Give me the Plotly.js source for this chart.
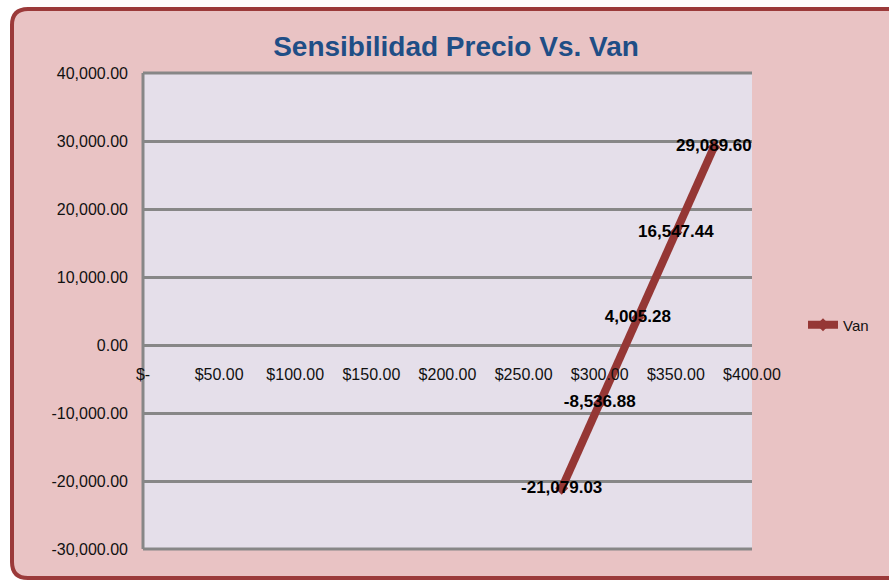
<!DOCTYPE html>
<html><head><meta charset="utf-8">
<script src="https://cdn.plot.ly/plotly-3.0.1.min.js"></script>
<style>html,body{margin:0;padding:0;background:#fff;}#chart{width:889px;height:581px;}</style>
</head><body><div id="chart"></div>
<script>
// Data
const precios = [275, 300, 325, 350, 375];
const van = [-21079.03, -8536.88, 4005.28, 16547.44, 29089.60];
const vanLabels = ["-21,079.03", "-8,536.88", "4,005.28", "16,547.44", "29,089.60"];
const xTickVals = [0, 50, 100, 150, 200, 250, 300, 350, 400];
const xTickText = ["$-", "$50.00", "$100.00", "$150.00", "$200.00", "$250.00", "$300.00", "$350.00", "$400.00"];
const yTickVals = [-30000, -20000, -10000, 0, 10000, 20000, 30000, 40000];
const yTickText = ["-30,000.00", "-20,000.00", "-10,000.00", "0.00", "10,000.00", "20,000.00", "30,000.00", "40,000.00"];

// layout geometry (pixels)
const L = 143, R = 752, T = 73, B = 549;
const W = 889, H = 581;
const px = x => (x - L) / (R - L);
const py = y => (B - y) / (B - T);
const x0 = px(12), x1 = px(893), y0 = py(9), y1 = py(578);
const rx = 16 / (R - L), ry = 16 / (B - T);
const framePath = `M ${x0} ${y0 - ry} Q ${x0} ${y0} ${x0 + rx} ${y0} L ${x1} ${y0} L ${x1} ${y1} L ${x0 + rx} ${y1} Q ${x0} ${y1} ${x0} ${y1 + ry} Z`;

const trace = {
  x: precios, y: van, type: 'scatter', mode: 'lines+markers+text', name: 'Van',
  line: {color: '#953735', width: 8},
  marker: {symbol: 'diamond', size: 10, color: '#953735'},
  text: vanLabels, textposition: 'middle center',
  textfont: {family: 'Liberation Sans, Arial, sans-serif', size: 17, color: '#000', weight: 'bold'},
  cliponaxis: false
};

const gridCol = '#878787';
const layout = {
  width: W, height: H,
  margin: {l: L, r: W - R, t: T, b: H - B, pad: 0},
  paper_bgcolor: '#ffffff',
  plot_bgcolor: '#e5dfea',
  title: {text: '<b>Sensibilidad Precio Vs. Van</b>', x: 456 / W, xanchor: 'center', y: 1 - 46 / H, yanchor: 'middle',
    font: {family: 'Liberation Sans Narrow, Arial Narrow, Liberation Sans, sans-serif', size: 28, color: '#1f4e86'}},
  xaxis: {range: [0, 400], tickvals: xTickVals, ticktext: xTickText, anchor: 'free', position: py(345),
    showgrid: false, zeroline: false, showline: false, ticks: '', ticklabelstandoff: 18,
    tickfont: {family: 'Liberation Sans, Arial, sans-serif', size: 16, color: '#111'}},
  yaxis: {range: [-30000, 40000], tickvals: yTickVals, ticktext: yTickText,
    showgrid: true, gridcolor: gridCol, gridwidth: 3, zeroline: true, zerolinecolor: gridCol, zerolinewidth: 3,
    showline: false, ticks: '', ticklabelstandoff: 14,
    tickfont: {family: 'Liberation Sans, Arial, sans-serif', size: 16, color: '#111'}},
  showlegend: true,
  legend: {x: px(803), xanchor: 'left', y: py(325), yanchor: 'middle', bgcolor: 'rgba(0,0,0,0)',
    font: {family: 'Liberation Sans, Arial, sans-serif', size: 15, color: '#111'}},
  shapes: [
    {type: 'path', xref: 'paper', yref: 'paper', path: framePath, fillcolor: '#e9c3c4', line: {color: '#9b3a3a', width: 4}, layer: 'below'},
    {type: 'rect', xref: 'paper', yref: 'paper', x0: 0, x1: 1, y0: 0, y1: 1, fillcolor: '#e5dfea', line: {width: 0}, layer: 'below'},
    {type: 'line', xref: 'paper', yref: 'paper', x0: 0, x1: 1, y0: 1, y1: 1, line: {color: gridCol, width: 3}, layer: 'below'},
    {type: 'line', xref: 'paper', yref: 'paper', x0: 0, x1: 1, y0: 0, y1: 0, line: {color: gridCol, width: 3}, layer: 'below'},
    {type: 'line', xref: 'paper', yref: 'paper', x0: 0, x1: 0, y0: 0, y1: 1, line: {color: gridCol, width: 3}, layer: 'below'}
  ]
};

Plotly.newPlot('chart', [trace], layout, {displayModeBar: false, staticPlot: true});
</script></body></html>
